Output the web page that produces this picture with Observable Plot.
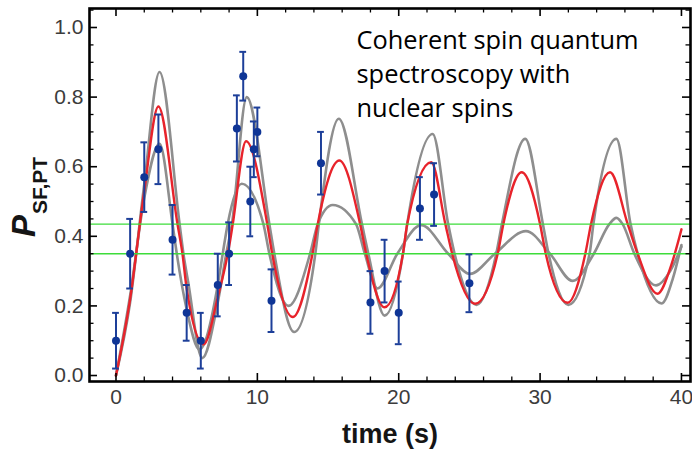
<!DOCTYPE html>
<html><head><meta charset="utf-8">
<script src="https://cdn.jsdelivr.net/npm/d3@7"></script>
<script src="https://cdn.jsdelivr.net/npm/@observablehq/plot@0.6"></script>
<style>body{margin:0;background:#fff}#chart{width:692px;height:454px}</style>
</head><body><div id="chart"></div>
<script>
// ---- measured data ----
const dataT   = [0,1,2,3,4,5,6,7.2,8,8.55,9,9.5,9.75,10,11,14.5,18,19,20,21.5,22.5,25];
const dataP   = [0.10,0.35,0.57,0.65,0.39,0.18,0.10,0.26,0.35,0.71,0.86,0.50,0.65,0.70,0.215,0.61,0.21,0.30,0.18,0.48,0.52,0.265];
const dataErr = [0.08,0.10,0.10,0.10,0.10,0.08,0.08,0.09,0.09,0.095,0.07,0.10,0.08,0.07,0.09,0.09,0.09,0.09,0.09,0.09,0.09,0.083];

const redT = [0,1,2,3.0,4.35,4.7,5.0,6.2,7.2,8.0,8.26,9.2,10.7,11.05,12.5,13.9,14.27,15.8,17.27,17.7,19.0,20.3,20.6,22.3,23.3,23.78,25.4,27.0,27.4,28.7,30.0,30.4,31.95,33.2,33.6,34.95,36.2,36.9,38.3,39.3,40];
const redP = [0,0.22,0.53,0.773,0.435,0.35,0.25,0.09,0.225,0.37,0.435,0.673,0.435,0.35,0.168,0.35,0.435,0.618,0.435,0.35,0.196,0.35,0.435,0.613,0.435,0.35,0.206,0.35,0.435,0.584,0.435,0.35,0.209,0.35,0.435,0.584,0.435,0.35,0.235,0.32,0.42];

const grayHiT = [0,1,2,3.08,4.5,4.77,5.1,6.1,7.2,7.8,8.2,9.25,10.85,11.2,12.6,14.1,14.35,15.76,17.4,17.85,19.0,20.3,20.6,22.4,23.5,23.95,25.5,26.9,27.3,28.95,30.2,30.6,32.0,33.5,33.77,35.4,36.4,36.9,38.6,39.4,40];
const grayHiP = [0,0.21,0.55,0.872,0.435,0.35,0.27,0.05,0.21,0.35,0.435,0.80,0.435,0.35,0.125,0.35,0.435,0.738,0.435,0.35,0.172,0.35,0.435,0.694,0.435,0.35,0.203,0.35,0.435,0.68,0.435,0.35,0.203,0.35,0.435,0.68,0.435,0.35,0.207,0.28,0.375];

const grayLoT = [0,1,2,3.08,4.0,4.3,5.0,5.9,7.2,7.55,7.9,8.9,10.43,10.85,12.2,13.73,14.27,15.33,16.98,17.6,18.5,19.9,21.6,23.5,25.05,26.8,29.0,30.7,32.3,33.8,34.9,35.4,35.84,36.67,38.2,39.2,40];
const grayLoP = [0,0.23,0.51,0.666,0.435,0.35,0.19,0.075,0.26,0.35,0.435,0.551,0.435,0.35,0.20,0.35,0.435,0.49,0.435,0.35,0.25,0.35,0.432,0.35,0.292,0.35,0.415,0.35,0.272,0.35,0.435,0.453,0.435,0.35,0.259,0.30,0.37];

const greenLevels = [0.435, 0.35];
const xMajor = [0,10,20,30,40];
const xMinor = [2,4,6,8,12,14,16,18,22,24,26,28,32,34,36,38];
const yMajor = [0,0.2,0.4,0.6,0.8,1.0];
const yMinor = [0.05,0.1,0.15,0.25,0.3,0.35,0.45,0.5,0.55,0.65,0.7,0.75,0.85,0.9,0.95,1.05];
const titleText = "Coherent spin quantum\nspectroscopy with\nnuclear spins";
const xLabel = "time (s)";
const yLabelMain = "P";
const yLabelSub = "SF,PT";

// ---- layout ----
const W = 692, H = 454, mL = 89, mR = 2, mT = 8, mB = 73;
const X0 = -1.874, X1 = 40.64, Y0 = -0.0172, Y1 = 1.0546;
const pxX = (W - mL - mR) / (X1 - X0), pxY = (H - mT - mB) / (Y1 - Y0);

const pts = dataT.map((t, i) => ({t, p: dataP[i], lo: dataP[i] - dataErr[i], hi: dataP[i] + dataErr[i]}));
const mk = (T, P) => T.map((t, i) => ({t, p: P[i]}));
const red = mk(redT, redP), gHi = mk(grayHiT, grayHiP), gLo = mk(grayLoT, grayLoP);

const blue = "#1d3f99";
const capW = 3.4 / pxX;
const tickMarks = (vals, len, sw) => [
  Plot.ruleY(vals, {y: d => d, x1: X0, x2: X0 + len / pxX, stroke: "black", strokeWidth: sw}),
  Plot.ruleY(vals, {y: d => d, x1: X1 - len / pxX, x2: X1, stroke: "black", strokeWidth: sw})
];
const tickMarksX = (vals, len, sw) => [
  Plot.ruleX(vals, {x: d => d, y1: Y0, y2: Y0 + len / pxY, stroke: "black", strokeWidth: sw}),
  Plot.ruleX(vals, {x: d => d, y1: Y1 - len / pxY, y2: Y1, stroke: "black", strokeWidth: sw})
];

const chart = Plot.plot({
  width: W, height: H,
  marginLeft: mL, marginRight: mR, marginTop: mT, marginBottom: mB,
  x: {domain: [X0, X1]},
  y: {domain: [Y0, Y1]},
  style: {fontFamily: "'Liberation Sans', Arial, sans-serif", background: "white", overflow: "visible"},
  marks: [
    Plot.line(gHi, {x: "t", y: "p", stroke: "#8e8e8e", strokeWidth: 2.6, curve: "monotone-x"}),
    Plot.line(gLo, {x: "t", y: "p", stroke: "#8e8e8e", strokeWidth: 2.6, curve: "monotone-x"}),
    Plot.line(red, {x: "t", y: "p", stroke: "#e8232b", strokeWidth: 2.4, curve: "monotone-x"}),
    Plot.ruleY(greenLevels, {y: d => d, x1: X0, x2: X1, stroke: "#3ddc3a", strokeWidth: 1.4}),
    Plot.ruleX(pts, {x: "t", y1: "lo", y2: "hi", stroke: blue, strokeWidth: 2}),
    Plot.ruleY(pts, {y: "hi", x1: d => d.t - capW, x2: d => d.t + capW, stroke: blue, strokeWidth: 2}),
    Plot.ruleY(pts, {y: "lo", x1: d => d.t - capW, x2: d => d.t + capW, stroke: blue, strokeWidth: 2}),
    Plot.dot(pts, {x: "t", y: "p", r: 4, fill: "#0f3596", stroke: "none"}),
    ...tickMarks(yMajor, 8, 1.6), ...tickMarks(yMinor, 4.5, 1.3),
    ...tickMarksX(xMajor, 8, 1.6), ...tickMarksX(xMinor, 4.5, 1.3),
    Plot.frame({stroke: "black", strokeWidth: 2.6}),
    Plot.axisY(yMajor, {anchor: "left", tickSize: 0, tickPadding: 6, tickFormat: d3.format(".1f"), label: null, fontSize: 21, fill: "#3c3c3c"}),
    Plot.axisX(xMajor, {anchor: "bottom", tickSize: 0, tickPadding: 8, tickFormat: d3.format("d"), label: null, fontSize: 21, fill: "#3c3c3c"}),
    Plot.text([xLabel], {frameAnchor: "bottom", dy: 53, lineAnchor: "middle", fontSize: 27, fontWeight: "bold", fill: "#151515"}),
    Plot.text([titleText], {frameAnchor: "top-left", dx: 356 - mL, dy: 16 - mT + 8, lineAnchor: "top", textAnchor: "start", fontSize: 25.4, fontFamily: "'Open Sans', sans-serif", fill: "black", lineHeight: 1.34})
  ]
});

const svg = d3.select(chart);
const yl = svg.append("text")
  .attr("transform", "translate(35,237) rotate(-90)")
  .attr("text-anchor", "start")
  .attr("font-family", "'Liberation Sans', Arial, sans-serif")
  .attr("font-weight", "bold").attr("fill", "#151515");
yl.append("tspan").attr("font-style", "italic").attr("font-size", 33).text(yLabelMain);
yl.append("tspan").attr("font-size", 21).attr("dy", 12).attr("dx", 1).text(yLabelSub);

document.getElementById("chart").appendChild(chart);
</script></body></html>
